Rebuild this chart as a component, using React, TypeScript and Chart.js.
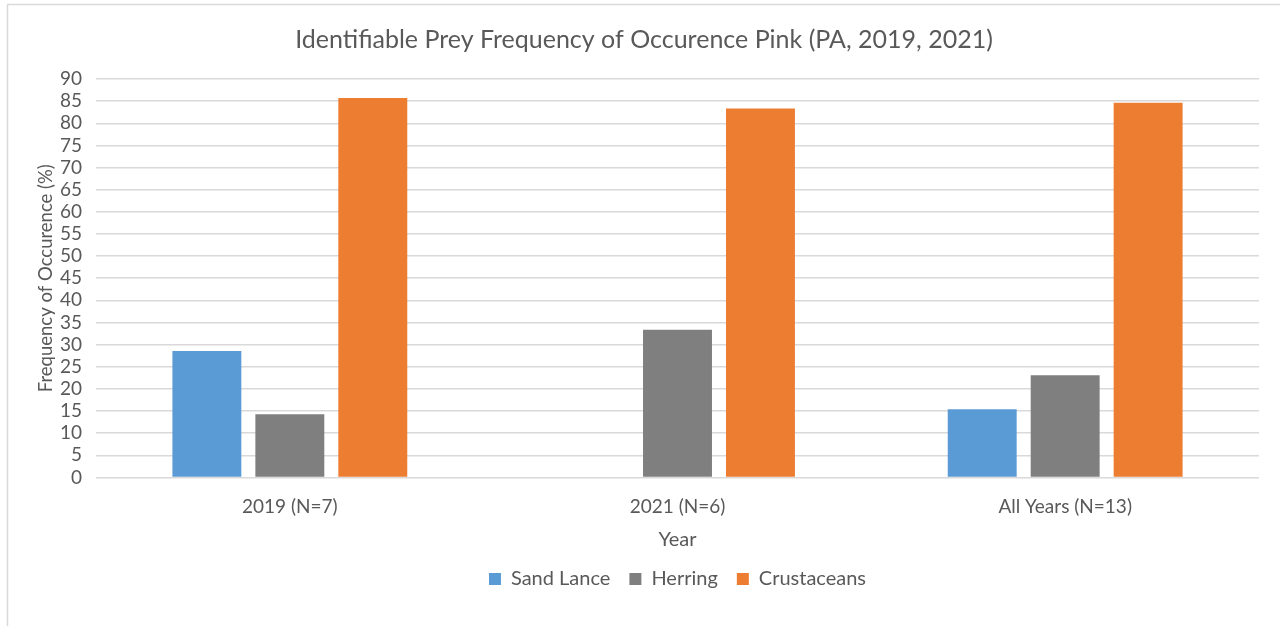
import React, { useEffect, useRef } from "react";
import { Chart, registerables } from "chart.js";

Chart.register(...registerables);

const categories = ["2019 (N=7)", "2021 (N=6)", "All Years (N=13)"];
const sandLance = [28.57, 0, 15.38];
const herring = [14.29, 33.33, 23.08];
const crustaceans = [85.71, 83.33, 84.62];
const yTicks = { min: 0, max: 90, step: 5 };

const FONT = "Lato, sans-serif";
const TEXT = "#595959";

const framePlugin = {
  id: "frame",
  beforeDraw(chart: any) {
    const ctx = chart.ctx;
    ctx.save();
    ctx.fillStyle = "#ffffff";
    ctx.fillRect(0, 0, chart.width, chart.height);
    ctx.strokeStyle = "#d9d9d9";
    ctx.lineWidth = 1.5;
    ctx.beginPath();
    ctx.moveTo(7.5, chart.height);
    ctx.lineTo(7.5, 4.5);
    ctx.lineTo(chart.width, 4.5);
    ctx.stroke();
    ctx.restore();
  },
};

export default function App() {
  const ref = useRef<HTMLCanvasElement | null>(null);
  useEffect(() => {
    if (!ref.current) return;
    const chart = new Chart(ref.current, {
      type: "bar",
      data: {
        labels: categories,
        datasets: [
          { label: "Sand Lance", data: sandLance, backgroundColor: "#5B9BD5" },
          { label: "Herring", data: herring, backgroundColor: "#7F7F7F" },
          { label: "Crustaceans", data: crustaceans, backgroundColor: "#ED7D31" },
        ],
      },
      options: {
        animation: false,
        responsive: false,
        maintainAspectRatio: false,
        datasets: { bar: { categoryPercentage: 0.642, barPercentage: 0.831 } },
        layout: { padding: { left: 29, right: 21, top: 0, bottom: 27 } },
        plugins: {
          title: {
            display: true,
            text: "Identifiable Prey Frequency of Occurence Pink (PA, 2019, 2021)",
            color: TEXT,
            font: { family: FONT, size: 25, weight: "normal" },
            padding: { top: 25, bottom: 24 },
          },
          legend: {
            position: "bottom",
            fullSize: false,
            labels: {
              color: TEXT,
              font: { family: FONT, size: 20 },
              boxWidth: 12,
              boxHeight: 12,
              padding: 19,
            },
          },
          tooltip: { enabled: false },
        },
        scales: {
          x: {
            grid: { display: false, drawTicks: false },
            border: { display: false },
            ticks: { color: TEXT, font: { family: FONT, size: 19 }, padding: 17.6 },
            title: {
              display: true,
              text: "Year",
              color: TEXT,
              font: { family: FONT, size: 20 },
              padding: { top: -7.4, bottom: -2 },
            },
          },
          y: {
            min: yTicks.min,
            max: yTicks.max,
            ticks: {
              stepSize: yTicks.step,
              autoSkip: false,
              color: TEXT,
              font: { family: FONT, size: 19 },
              padding: 14,
            },
            grid: { color: "#d9d9d9", lineWidth: 1.5, drawTicks: false },
            border: { display: false },
            title: {
              display: true,
              text: "Frequency of Occurence (%)",
              color: TEXT,
              font: { family: FONT, size: 18.5 },
              padding: { top: 5.5, bottom: 0 },
            },
            afterFit: (s: any) => {
              s.width = 67;
            },
          },
        },
      },
      plugins: [framePlugin],
    });
    return () => chart.destroy();
  }, []);
  return (
    <div style={{ position: "absolute", left: 0, top: 0, width: 1280, height: 626 }}>
      <canvas ref={ref} width={1280} height={626} />
    </div>
  );
}
